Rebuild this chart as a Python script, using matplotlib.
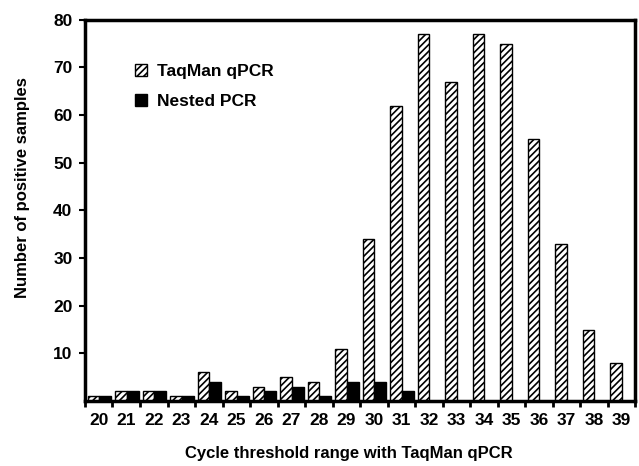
import numpy as np
import matplotlib
matplotlib.use("Agg")
import matplotlib.pyplot as plt

plt.rcParams['font.family'] = ['Liberation Sans', 'DejaVu Sans']
plt.rcParams['font.weight'] = 'bold'
plt.rcParams['hatch.linewidth'] = 1.2

# data
cycles = ['20', '21', '22', '23', '24', '25', '26', '27', '28', '29',
          '30', '31', '32', '33', '34', '35', '36', '37', '38', '39']
taqman = [1, 2, 2, 1, 6, 2, 3, 5, 4, 11, 34, 62, 77, 67, 77, 75, 55, 33, 15, 8]
nested = [1, 2, 2, 1, 4, 1, 2, 3, 1, 4, 4, 2, 0, 0, 0, 0, 0, 0, 0, 0]

fig = plt.figure(figsize=(6.39, 4.66), dpi=100)
ax = fig.add_axes([0.133, 0.1395, 0.861, 0.818])

x = np.arange(len(cycles))
ax.bar(x - 0.19, taqman, 0.42, color='white', edgecolor='black',
       hatch='/////', linewidth=1.0, label='TaqMan qPCR')
ax.bar(x + 0.24, nested, 0.44, color='black', edgecolor='black',
       linewidth=1.0, label='Nested PCR')

ax.set_xlim(-0.5, len(cycles) - 0.5)
ax.set_ylim(0, 80)
ax.set_yticks(np.arange(10, 81, 10))
ax.set_xticks(x)
ax.set_xticklabels(cycles, fontsize=12.5, fontweight='bold')
ax.set_xticks(np.arange(-0.5, len(cycles), 1), minor=True)
ax.tick_params(axis='x', which='major', length=0, pad=9)
ax.tick_params(axis='x', which='minor', length=4, width=2, direction='out')
ax.tick_params(axis='y', length=4, width=1.5, labelsize=12.5, pad=5)
for lab in ax.get_yticklabels():
    lab.set_fontweight('bold')

for s in ax.spines.values():
    s.set_linewidth(2.5)

ax.set_ylabel('Number of positive samples', fontsize=12, fontweight='bold')
ax.yaxis.set_label_coords(-0.1, 0.56)
ax.set_xlabel('Cycle threshold range with TaqMan qPCR', fontsize=12,
              fontweight='bold')
ax.xaxis.set_label_coords(0.48, -0.118)

ax.legend(loc='upper left', bbox_to_anchor=(0.09, 0.885), frameon=False,
          prop={'size': 12.5, 'weight': 'bold'}, handlelength=0.7,
          handleheight=0.7, handletextpad=0.6, labelspacing=0.85,
          borderpad=0, borderaxespad=0)

fig.savefig('out.png', dpi=100)
